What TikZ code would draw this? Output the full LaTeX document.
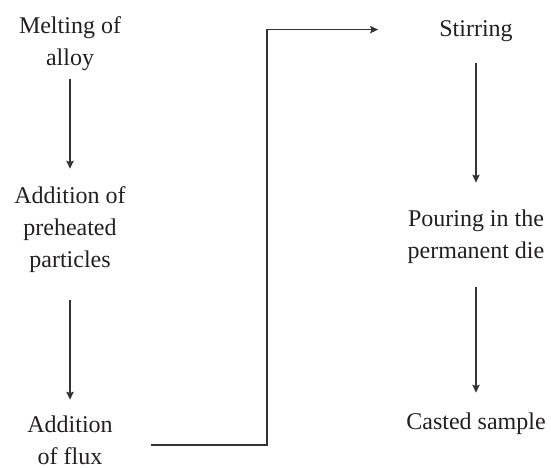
\documentclass[tikz,border=0pt]{standalone}
\usepackage{fontspec}
\setmainfont{Liberation Serif}
\usepackage{xcolor}
\usepackage{tikz}
\usetikzlibrary{arrows.meta}
\definecolor{inkline}{HTML}{333333}
\definecolor{inktext}{HTML}{231F20}

\begin{document}
\begin{tikzpicture}[x=0.75pt,y=-0.75pt,
    stage/.style={inner sep=0pt,align=center,text=inktext,
        font=\fontsize{18}{24}\selectfont},
    flow/.style={draw=inkline,line width=1.1pt,
        -{Stealth[length=6pt,width=5.5pt,inset=1pt]}}]
    \useasboundingbox (0,0) rectangle (551,468);
    % Left column
    \node[stage] (melt) at (70,42.6) {\strut Melting of\\\strut alloy};
    \node[stage] (preheat) at (70,228.6) {\strut Addition of\\\strut preheated\\\strut particles};
    \node[stage] (flux) at (70,441.6) {\strut Addition\\\strut of flux};
    % Right column
    \node[stage] (stir) at (476,29.6) {\strut Stirring};
    \node[stage] (pour) at (476,235.6) {\strut Pouring in the\\\strut permanent die};
    \node[stage] (cast) at (476,422.6) {\strut Casted sample};
    \coordinate (riser) at (267,240);
    % Connectors
    \draw[flow,shorten <=3.3pt,shorten >=8.7pt] (melt) -- (preheat);
    \draw[flow,shorten <=17.5pt,shorten >=7.2pt] (preheat) -- (flux);
    \draw[flow,shorten <=28.5pt,shorten >=45.7pt] ([yshift=-2.5pt]flux.east) -| (riser) |- (stir.west);
    \draw[flow,shorten <=13pt,shorten >=15.5pt] (stir) -- (pour);
    \draw[flow,shorten <=14.5pt,shorten >=10.2pt] (pour) -- (cast);
\end{tikzpicture}
\end{document}
